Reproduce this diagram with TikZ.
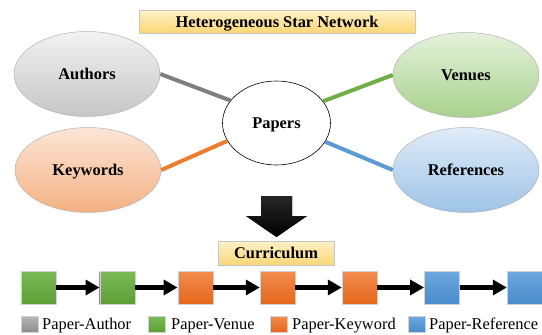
\documentclass[tikz,border=0pt]{standalone}
\usepackage{fontspec}
\setmainfont{Liberation Serif}
\usetikzlibrary{arrows.meta,shapes.geometric}
\definecolor{bannertop}{HTML}{FEF1C8}
\definecolor{bannerbot}{HTML}{FAD676}
\definecolor{authtop}{HTML}{F2F2F2}
\definecolor{authbot}{HTML}{C6C6C6}
\definecolor{keytop}{HTML}{FCE5D6}
\definecolor{keybot}{HTML}{F4B183}
\definecolor{ventop}{HTML}{E4F1DB}
\definecolor{venbot}{HTML}{A9D18E}
\definecolor{reftop}{HTML}{E0ECF8}
\definecolor{refbot}{HTML}{9DC3E6}
\definecolor{lgray}{HTML}{7F7F7F}
\definecolor{lgreen}{HTML}{70AD47}
\definecolor{lorange}{HTML}{ED7D31}
\definecolor{lblue}{HTML}{5B9BD5}
\definecolor{sgreent}{HTML}{7CBA57}
\definecolor{sgreenb}{HTML}{5C9E36}
\definecolor{soranget}{HTML}{F28C4E}
\definecolor{sorangeb}{HTML}{E5671B}
\definecolor{sbluet}{HTML}{6EA8DE}
\definecolor{sblueb}{HTML}{4A8BCB}
\definecolor{sgrayt}{HTML}{B8B8B8}
\definecolor{sgrayb}{HTML}{8C8C8C}
\begin{document}
\begin{tikzpicture}[x=1pt,y=-1pt,
  lbl/.style={font=\fontsize{16.4}{19}\selectfont\bfseries, text depth=0pt},
  ent/.style={ellipse, draw=gray!60, line width=0.5pt, minimum width=146pt, minimum height=85pt, inner sep=0pt, lbl},
  banner/.style={rectangle, draw=gray!45, line width=0.4pt, top color=bannertop, bottom color=bannerbot, inner sep=0pt, lbl},
  link/.style={line width=4pt},
  stage/.style={rectangle, draw=gray!35, line width=0.4pt, minimum width=35pt, minimum height=33pt, inner sep=0pt},
  flow/.style={line width=4.5pt, -{Triangle[length=14pt,width=15pt]}},
  keybox/.style={rectangle, draw=gray!35, line width=0.4pt, minimum width=17pt, minimum height=16pt, inner sep=0pt},
  keytxt/.style={font=\fontsize{16.4}{19}\selectfont, inner sep=0pt, anchor=base west},
]
\useasboundingbox (0,0) rectangle (542,335);

% title
\node[banner, minimum width=276pt, minimum height=23pt] (title) at (277,21.5) {Heterogeneous Star Network};

% entities
\node[ent, top color=authtop, bottom color=authbot] (authors) at (87,74) {Authors};
\node[ent, top color=keytop, bottom color=keybot] (keywords) at (88,170) {Keywords};
\node[ent, top color=ventop, bottom color=venbot] (venues) at (466,75) {Venues};
\node[ent, top color=reftop, bottom color=refbot] (references) at (466,170) {References};
\node[ellipse, draw=black, line width=0.6pt, fill=white, minimum width=108pt, minimum height=84pt, inner sep=0pt, lbl] (papers) at (276.5,123) {Papers};

% links
\draw[link, lgray] (authors.east) -- (papers.154);
\draw[link, lgreen] (papers.25) -- (venues.west);
\draw[link, lorange] (keywords.east) -- (papers.200);
\draw[link, lblue] (papers.-21) -- (references.west);

% big arrow
\fill[top color=black!85, bottom color=black] (261,196) -- (292,196) -- (292,216) -- (307,216) -- (276.5,237) -- (246,216) -- (261,216) -- cycle;

% curriculum banner
\node[banner, minimum width=116pt, minimum height=24pt] (curr) at (276,253) {Curriculum};

% stages
\node[stage, top color=sgreent, bottom color=sgreenb] (s1) at (38.3,287.5) {};
\node[stage, top color=sgreent, bottom color=sgreenb] (s2) at (117.2,287.5) {};
\node[stage, top color=soranget, bottom color=sorangeb] (s3) at (195.3,287.5) {};
\node[stage, top color=soranget, bottom color=sorangeb] (s4) at (277.5,287.5) {};
\node[stage, top color=soranget, bottom color=sorangeb] (s5) at (359.5,287.5) {};
\node[stage, top color=sbluet, bottom color=sblueb] (s6) at (441.8,287.5) {};
\node[stage, top color=sbluet, bottom color=sblueb] (s7) at (524.5,287.5) {};
\draw[flow] (s1) -- (s2);
\draw[flow] (s2) -- (s3);
\draw[flow] (s3) -- (s4);
\draw[flow] (s4) -- (s5);
\draw[flow] (s5) -- (s6);
\draw[flow] (s6) -- (s7);

% legend
\node[keybox, top color=sgrayt, bottom color=sgrayb] (k1) at (29.5,324) {};
\node[keytxt] (t1) at (42,329) {Paper-Author};
\node[keybox, top color=sgreent, bottom color=sgreenb] (k2) at (157,324) {};
\node[keytxt] (t2) at (171,329) {Paper-Venue};
\node[keybox, top color=soranget, bottom color=sorangeb] (k3) at (279,324) {};
\node[keytxt] (t3) at (292,329) {Paper-Keyword};
\node[keybox, top color=sbluet, bottom color=sblueb] (k4) at (417,324) {};
\node[keytxt] (t4) at (429,329) {Paper-Reference};
\end{tikzpicture}
\end{document}
